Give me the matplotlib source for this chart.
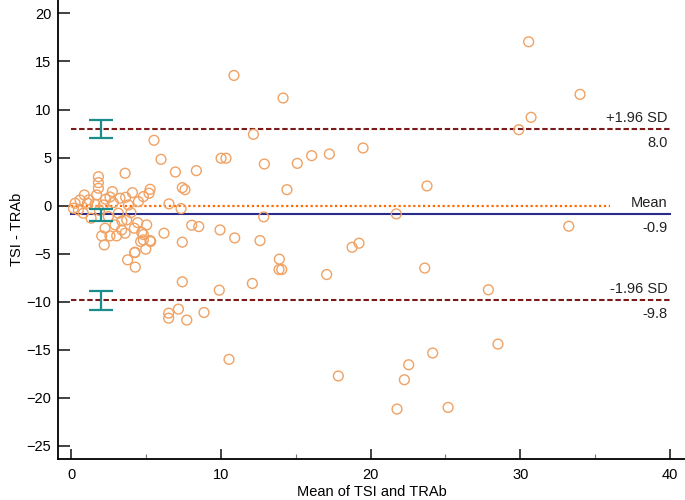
import numpy as np
import matplotlib.pyplot as plt

# Bland-Altman data: mean of the two methods (x) and their difference (y)
mean_tsi_trab = [10.88, 14.16, 12.18, 5.54, 6.01, 6.97, 8.37, 10.02, 10.35, 12.91,
                 15.11, 16.07, 17.25, 14.42, 7.43, 7.61, 6.54, 7.35, 12.87, 8.06,
                 8.53, 6.21, 9.95, 10.93, 12.62, 7.43, 13.91, 13.89, 14.07, 17.07,
                 7.43, 9.9, 12.11, 7.17, 6.52, 6.52, 7.73, 8.88, 10.55, 19.5,
                 23.77, 21.72, 29.9, 19.23, 18.77, 23.62, 27.87, 28.51, 24.15, 22.55,
                 17.85, 22.26, 21.77, 25.18, 30.56, 33.99, 30.72, 33.24,
                 4.65, 5.32, 4.99, 4.25, 4.83, 4.29, 3.61, 1.83, 1.83, 1.83,
                 5.28, 5.21, 0.89, 1.71, 2.76, 2.31, 3.27, 3.65, 4.1, 4.5,
                 4.83, 0.27, 0.6, 1.1, 1.6, 2.16, 2.82, 3.83, 0.16, 0.49,
                 0.82, 1.34, 2.49, 3.16, 3.72, 4.45, 4.0, 2.94, 2.27, 3.38,
                 5.05, 4.72, 2.05, 2.6, 3.05, 3.61, 4.23, 2.22, 4.83, 5.28,
                 4.27, 3.78, 1.9, 2.6, 3.4, 1.2]
diff_tsi_trab = [13.55, 11.2, 7.42, 6.8, 4.82, 3.5, 3.64, 4.93, 4.93, 4.33,
                 4.4, 5.2, 5.37, 1.66, 1.87, 1.66, 0.18, -0.31, -1.17, -2.04,
                 -2.18, -2.87, -2.53, -3.36, -3.64, -3.8, -5.57, -6.65, -6.65, -7.17,
                 -7.93, -8.8, -8.1, -10.77, -11.19, -11.71, -11.91, -11.12, -16.0, 6.0,
                 2.05, -0.86, 7.9, -3.91, -4.33, -6.5, -8.76, -14.41, -15.34, -16.56,
                 -17.73, -18.12, -21.17, -21.0, 17.05, 11.58, 9.19, -2.14,
                 -3.74, -3.74, -4.53, -4.89, -3.01, -6.4, 3.37, 3.01, 2.39, 1.81,
                 1.7, 1.29, 1.11, 1.11, 1.46, 0.67, 0.77, 0.87, 1.35, 0.42,
                 0.94, 0.25, 0.59, 0.25, 0.15, 0.07, 0.31, 0.07, -0.27, -0.45,
                 -0.79, -1.31, -1.14, -0.79, -1.49, -1.77, -0.73, -2.0, -2.35, -2.53,
                 -2.0, -2.8, -3.15, -3.15, -3.15, -2.87, -2.35, -4.09, -3.57, -3.64,
                 -4.85, -5.64, -0.5, 0.9, -1.6, 0.6]

# agreement statistics
bias = -0.9
upper_loa = 8.0
lower_loa = -9.8
# confidence intervals drawn at x = 2
ci_x = [2.0, 2.0, 2.0]
ci_center = [upper_loa, -0.97, -9.9]
ci_halfwidth = [0.95, 0.6, 1.0]

plt.rcParams.update({'font.family': 'Liberation Sans', 'font.size': 10.5})

fig = plt.figure(figsize=(6.85, 5.0), dpi=100)
ax = fig.add_axes([0.0851, 0.0814, 0.9149, 0.9186])

# zero line and limits of agreement
ax.plot([0, 36], [0, 0], color='#ff6a00', lw=1.6, linestyle=(0, (1, 1.2)), zorder=2)
ax.plot([0, 40], [bias, bias], color='#2a2a8a', lw=1.5, zorder=2)
for val in [upper_loa, lower_loa]:
    ax.plot([0, 40], [val, val], color='#7a1a1a', lw=1.5, linestyle=(0, (2.6, 1.3)), zorder=2)

# the points
ax.scatter(mean_tsi_trab, diff_tsi_trab, s=50, facecolors='none', edgecolors='#f0a264',
           linewidths=1.0, zorder=3)

# confidence interval bars
ax.errorbar(ci_x, ci_center, yerr=ci_halfwidth, fmt='none', ecolor='#1b8c8c',
            elinewidth=1.6, capsize=8.5, capthick=1.6, zorder=4)

# line labels
labels = [(upper_loa, '+1.96 SD', f'{upper_loa:.1f}'),
          (bias, 'Mean', f'{bias:.1f}'),
          (lower_loa, '-1.96 SD', f'{lower_loa:.1f}')]
for yv, top, bottom in labels:
    ax.annotate(top, (39.85, yv), xytext=(0, 3), textcoords='offset points',
                ha='right', va='bottom', color='#222222')
    ax.annotate(bottom, (39.85, yv), xytext=(0, -5), textcoords='offset points',
                ha='right', va='top', color='#222222')

# axes look
ax.set_xlim(-0.85, 41.0)
ax.set_ylim(-26.4, 21.4)
ax.set_xticks([0, 10, 20, 30, 40])
ax.set_xticks([5, 15, 25, 35], minor=True)
ax.set_yticks(np.arange(-25, 21, 5))
ax.spines['top'].set_visible(False)
ax.spines['right'].set_visible(False)
ax.spines['left'].set_linewidth(1.3)
ax.spines['bottom'].set_linewidth(1.3)
ax.tick_params(axis='y', which='major', direction='in', length=8.5, width=1.3,
               color='#333333', pad=5)
ax.tick_params(axis='x', which='major', direction='in', length=7, width=1.3,
               color='#333333', pad=6)
ax.tick_params(axis='x', which='minor', direction='in', length=3.5, width=0.8,
               color='#777777')
ax.set_xlabel('Mean of TSI and TRAb', va='center')
ax.xaxis.set_label_coords(0.5, -0.071)
ax.set_ylabel('TSI - TRAb', labelpad=2)

plt.savefig('out.png', dpi=100)
